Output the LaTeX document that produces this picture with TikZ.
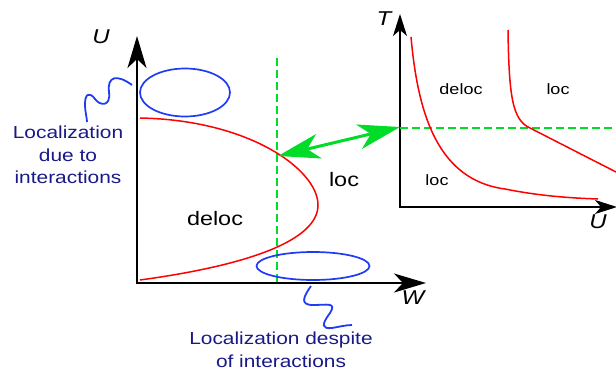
\documentclass[tikz,border=0pt]{standalone}
\usepackage{fontspec}
\setmainfont{Liberation Sans}
\usetikzlibrary{arrows.meta,shapes.geometric}
\definecolor{locblue}{RGB}{25,25,135}
\definecolor{ringblue}{RGB}{30,60,245}
\definecolor{cutgreen}{RGB}{0,220,40}
\newcommand{\hstretch}[1]{\scalebox{1.2}[1]{#1}}
\begin{document}
\begin{tikzpicture}[x=1pt,y=-1pt,
  axis/.style={line width=2pt,-{Stealth[length=32pt,width=19pt,inset=9pt]}},
  axissmall/.style={line width=1.6pt,-{Stealth[length=22pt,width=14pt,inset=6pt]}},
  curve/.style={line width=1.5pt,red},
  ring/.style={ellipse,draw=ringblue,line width=1.7pt,inner sep=0pt},
  cut/.style={line width=1.5pt,cutgreen,dash pattern=on 8pt off 4pt},
  wavy/.style={line width=1.8pt,ringblue},
  jump/.style={line width=3pt,cutgreen,
    {Stealth[length=42pt,width=25pt,inset=12pt]}-{Stealth[length=42pt,width=25pt,inset=12pt]}},
  lbl/.style={text=locblue,font=\fontsize{17.4}{22.5}\selectfont,align=center,inner sep=0pt},
  phase/.style={font=\fontsize{19.5}{23}\selectfont,inner sep=0pt},
  phasesmall/.style={font=\fontsize{15}{18}\selectfont,inner sep=0pt},
  axlbl/.style={font=\fontsize{20}{22}\selectfont\itshape,inner sep=0pt}]
\useasboundingbox (0,0) rectangle (616,370);
% left: U-W plane
\coordinate (O) at (137,284);
\coordinate (Utop) at (137,36);
\coordinate (Wend) at (426,283);
\draw[axis] (O) -- (Utop);
\draw[axis] ([xshift=-1pt]O |- Wend) -- (Wend);
\node[axlbl] (labU) at (101,37) {\hstretch{U}};
\node[axlbl] (labW) at (413,298) {\hstretch{W}};
\draw[cut] (277,58) -- (277,283);
\draw[curve] (140,118) .. controls (250,120) and (318,170) .. (318,205)
  .. controls (318,240) and (250,265) .. (140,280);
\coordinate (hit) at (278,156);
\node[phase] (deloc) at (215,219) {\hstretch{deloc}};
\node[phase] (loc) at (344,180) {\hstretch{loc}};
\node[ring,minimum width=90pt,minimum height=48pt] (ringU) at (185,92.5) {};
\node[ring,minimum width=113pt,minimum height=28pt] (ringW) at (313,266) {};
\node[lbl] (whyU) at (68,155) {\hstretch{Localization}\\\hstretch{due to}\\\hstretch{interactions}};
\node[lbl] (whyW) at (281,350) {\hstretch{Localization despite}\\\hstretch{of interactions}};
\coordinate (wU) at (132,85);
\coordinate (wW) at (311,286);
\draw[wavy] (wU) .. controls (117,74) and (107,76) .. (109,92)
  .. controls (111,107) and (100,106) .. (95,99)
  .. controls (90,92) and (85,93) .. (85,104)
  .. controls (85,112) and (87,118) .. (87,122);
\draw[wavy] (wW) .. controls (304,296) and (299,305) .. (313,305)
  .. controls (327,305) and (337,302) .. (330,313)
  .. controls (321,325) and (322,329) .. (332,328)
  .. controls (338,327) and (346,325) .. (352,325);
% right: U-T plane
\coordinate (O2) at (400,207);
\coordinate (Ttop) at (400,14);
\coordinate (Uend) at (617,207);
\draw[axissmall] ([yshift=0.8pt]O2) -- (Ttop);
\draw[axissmall] ([xshift=-0.8pt]O2) -- (Uend);
\node[axlbl] (labT) at (384,19) {\hstretch{T}};
\node[axlbl] (labU2) at (598,222) {\hstretch{U}};
\coordinate (fixT) at (400,128);
\draw[cut] (fixT) -- (616,128);
\draw[curve] (411,37) .. controls (418,115) and (438,180) .. (505,189)
  .. controls (540,196) and (570,198) .. (598,199);
\draw[curve] (508,30) .. controls (509,95) and (512,120) .. (530,128) -- (616,172);
\node[phasesmall] (deloc2) at (461,89) {\hstretch{deloc}};
\node[phasesmall] (loc2) at (558,89) {\hstretch{loc}};
\node[phasesmall] (loc3) at (437,180) {\hstretch{loc}};
% link between the two pictures
\draw[jump] (hit) -- ([yshift=1pt]fixT);
\end{tikzpicture}
\end{document}
